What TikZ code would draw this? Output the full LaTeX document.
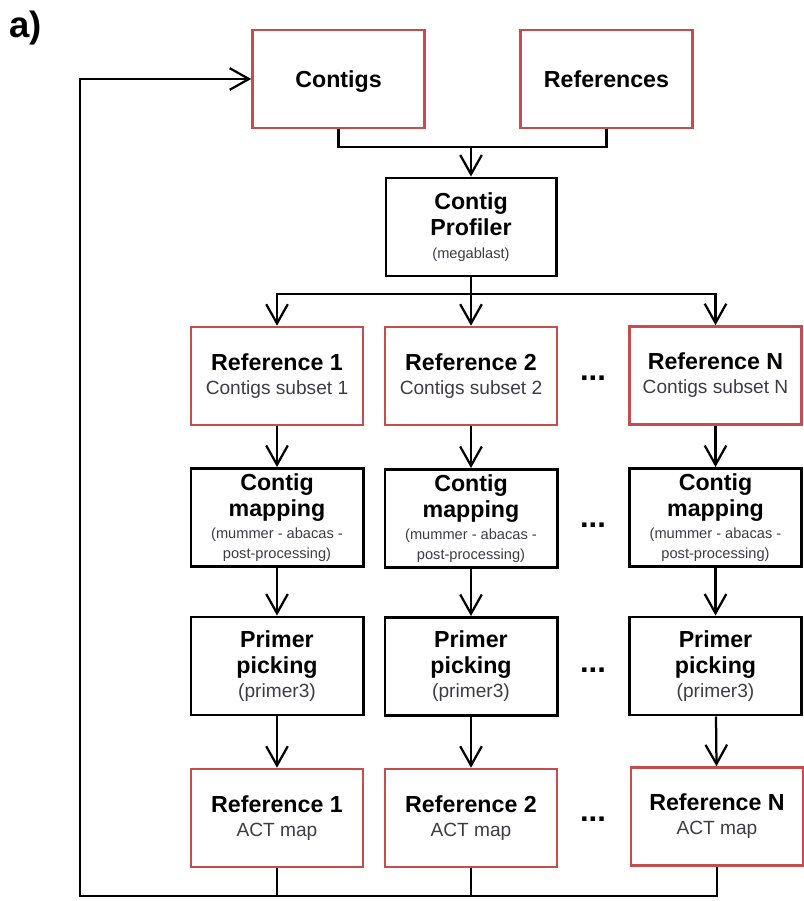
\documentclass[tikz,border=0pt]{standalone}
\usepackage{fontspec}
\setmainfont{Liberation Sans}
\usepackage{xcolor}
\usepackage{tikz}
\usetikzlibrary{arrows.meta}

\definecolor{boxred}{RGB}{196,78,78}
\definecolor{subgray}{RGB}{62,58,70}

\newcommand{\bigtxt}{\fontsize{16.5}{18}\selectfont\bfseries}
\newcommand{\subtxt}[1]{{\fontsize{13.6}{16}\selectfont\mdseries\color{subgray}#1}}
\newcommand{\tinytxt}[1]{{\fontsize{10.4}{13}\selectfont\mdseries\color{subgray}#1}}

\tikzset{
  redbox/.style={draw=boxred, line width=1.8pt, minimum width=4.3cm, minimum height=2.45cm,
    align=center, font=\bigtxt, inner sep=0pt},
  blackbox/.style={draw=black, line width=2.1pt, minimum width=4.3cm, minimum height=2.45cm,
    align=center, font=\bigtxt, inner sep=0pt},
  flow/.style={line width=1.6pt, -{Straight Barb[length=4.8mm, width=5.4mm, line width=1.6pt]}},
  link/.style={line width=1.6pt},
  gap/.style={font=\fontsize{22}{24}\selectfont\bfseries, anchor=base, inner sep=0pt}
}

\begin{document}
\begin{tikzpicture}[x=0.025cm, y=-0.025cm]
                    \useasboundingbox (0,0) rectangle (803,901);
                    \node[anchor=base west, font=\fontsize{26}{28}\selectfont\bfseries, inner sep=0pt] (panel) at (9,37) {a)};

                    % inputs
                    \node[redbox, text depth=0pt] (contigs) at (338.5,79) {Contigs};
                    \node[redbox] (references) at (606.5,79) {References};
                    \node[blackbox, minimum width=4.25cm] (profiler) at (471,227) {Contig\\[0.5pt] Profiler\\[-2pt] \tinytxt{(megablast)}};

                    % reference subsets
                    \node[redbox] (subone) at (277,376) {Reference 1\\[-1pt] \subtxt{Contigs subset 1}};
                    \node[redbox] (subtwo) at (471,376) {Reference 2\\[-1pt] \subtxt{Contigs subset 2}};
                    \node[redbox] (subn) at (715.5,375.5) {Reference N\\[-1pt] \subtxt{Contigs subset N}};

                    % contig mapping
                    \node[blackbox] (mapone) at (277,517.5) {Contig\\[0.5pt] mapping\\[-2pt] \tinytxt{(mummer - abacas -}\\[-4pt] \tinytxt{post-processing)}};
                    \node[blackbox] (maptwo) at (471,518.5) {Contig\\[0.5pt] mapping\\[-2pt] \tinytxt{(mummer - abacas -}\\[-4pt] \tinytxt{post-processing)}};
                    \node[blackbox] (mapn) at (715.5,517.5) {Contig\\[0.5pt] mapping\\[-2pt] \tinytxt{(mummer - abacas -}\\[-4pt] \tinytxt{post-processing)}};

                    % primer picking
                    \node[blackbox] (primone) at (277,666) {Primer\\[0.5pt] picking\\[-1pt] \subtxt{(primer3)}};
                    \node[blackbox] (primtwo) at (471,666.5) {Primer\\[0.5pt] picking\\[-1pt] \subtxt{(primer3)}};
                    \node[blackbox] (primn) at (715.5,666) {Primer\\[0.5pt] picking\\[-1pt] \subtxt{(primer3)}};

                    % ACT maps
                    \node[redbox] (actone) at (277,818) {Reference 1\\[-1pt] \subtxt{ACT map}};
                    \node[redbox] (acttwo) at (471,818) {Reference 2\\[-1pt] \subtxt{ACT map}};
                    \node[redbox] (actn) at (717,816.5) {Reference N\\[-1pt] \subtxt{ACT map}};

                    % dots between columns
                    \node[gap] (dotsa) at (593,380) {...};
                    \node[gap] (dotsb) at (593,527) {...};
                    \node[gap] (dotsc) at (593,672) {...};
                    \node[gap] (dotsd) at (593,821) {...};

                    % connectors
                    \coordinate (join) at (471,147);
                    \coordinate (split) at (471,294);
                    \coordinate (loop) at (80,896);

                    \draw[link] (contigs.south) |- (join);
                    \draw[link] (references.south) |- (join);
                    \draw[flow] (join) -- (profiler.north);

                    \draw[link] (profiler.south) -- (split);
                    \draw[flow] (split) -| (subone.north);
                    \draw[flow] (split) -- (subtwo.north);
                    \draw[flow] (split) -| (subn.north);

                    \draw[flow] (subone) -- (mapone);
                    \draw[flow] (subtwo) -- (maptwo);
                    \draw[flow] (subn) -- (mapn);
                    \draw[flow] (mapone) -- (primone);
                    \draw[flow] (maptwo) -- (primtwo);
                    \draw[flow] (mapn) -- (primn);
                    \draw[flow] (primone) -- (actone);
                    \draw[flow] (primtwo) -- (acttwo);
                    \draw[flow] (primn) -- (actn);

                    \draw[link] (actone.south) -- (actone.south |- loop);
                    \draw[link] (acttwo.south) -- (acttwo.south |- loop);
                    \draw[flow] (actn.south) |- (loop) |- (contigs.west);
                \end{tikzpicture}
\end{document}
